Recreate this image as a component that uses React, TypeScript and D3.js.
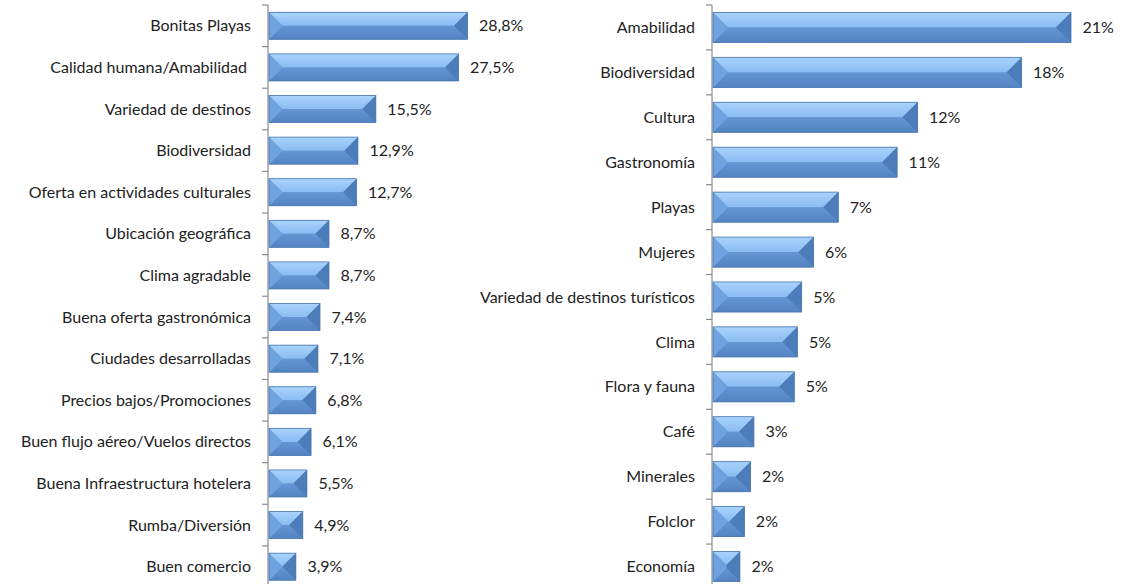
import * as d3 from "d3";

// left panel: reasons / attributes
const leftCategories = [
  "Bonitas Playas",
  "Calidad humana/Amabilidad ",
  "Variedad de destinos",
  "Biodiversidad",
  "Oferta en actividades culturales",
  "Ubicación geográfica",
  "Clima agradable",
  "Buena oferta gastronómica",
  "Ciudades desarrolladas",
  "Precios bajos/Promociones",
  "Buen flujo aéreo/Vuelos directos",
  "Buena Infraestructura hotelera",
  "Rumba/Diversión",
  "Buen comercio",
];
const leftValues = [28.8, 27.5, 15.5, 12.9, 12.7, 8.7, 8.7, 7.4, 7.1, 6.8, 6.1, 5.5, 4.9, 3.9];
const leftLabels = ["28,8%", "27,5%", "15,5%", "12,9%", "12,7%", "8,7%", "8,7%", "7,4%", "7,1%", "6,8%", "6,1%", "5,5%", "4,9%", "3,9%"];

// right panel
const rightCategories = [
  "Amabilidad",
  "Biodiversidad",
  "Cultura",
  "Gastronomía",
  "Playas",
  "Mujeres",
  "Variedad de destinos turísticos",
  "Clima",
  "Flora y fauna",
  "Café",
  "Minerales",
  "Folclor",
  "Economía",
];
const rightValues = [21, 18.1, 12.0, 10.8, 7.35, 5.9, 5.2, 4.95, 4.77, 2.4, 2.2, 1.84, 1.58];
const rightLabels = ["21%", "18%", "12%", "11%", "7%", "6%", "5%", "5%", "5%", "3%", "2%", "2%", "2%"];

const FONT = "Lato, 'Open Sans', sans-serif";
const TEXT = "#222";

type PanelProps = {
  id: string;
  cats: string[];
  values: number[];
  labels: string[];
  axisX: number;
  maxPx: number;
  yRange: [number, number];
  padding: number;
};

function Bar({ x0, x1, y0, y1, id }: { x0: number; x1: number; y0: number; y1: number; id: string }) {
  const h = y1 - y0;
  const w = x1 - x0;
  const d = Math.min(h / 2, w / 2);
  const top = `M${x0},${y0}L${x1},${y0}L${x1 - d},${y0 + d}L${x0 + d},${y0 + d}Z`;
  const bottom = `M${x0},${y1}L${x1},${y1}L${x1 - d},${y1 - d}L${x0 + d},${y1 - d}Z`;
  const left = `M${x0},${y0}L${x0 + d},${y0 + d}L${x0 + d},${y1 - d}L${x0},${y1}Z`;
  const right = `M${x1},${y0}L${x1 - d},${y0 + d}L${x1 - d},${y1 - d}L${x1},${y1}Z`;
  return (
    <g>
      <rect x={x0} y={y0} width={w} height={h} fill="#6a9bd8" />
      <path d={top} fill={`url(#${id}-top)`} />
      <path d={bottom} fill={`url(#${id}-bot)`} />
      <path d={left} fill="#6fa3e0" />
      <path d={right} fill="#4c7cba" />
      <rect x={x0} y={y0} width={w} height={h} fill="none" stroke="#4a77b0" strokeWidth={0.8} />
    </g>
  );
}

function Panel({ id, cats, values, labels, axisX, maxPx, yRange, padding }: PanelProps) {
  const y = d3.scaleBand<string>().domain(cats).range(yRange).paddingInner(padding).paddingOuter(padding / 2);
  const x = d3
    .scaleLinear()
    .domain([0, d3.max(values) as number])
    .range([axisX + 1, axisX + 1 + maxPx]);
  const step = y.step();
  const bounds = d3.range(cats.length + 1).map((i) => yRange[0] + i * step);
  return (
    <g fontFamily={FONT} fontSize={16} fill={TEXT}>
      <line x1={axisX} x2={axisX} y1={yRange[0]} y2={584} stroke="#8c8c8c" strokeWidth={1.2} />
      {bounds.map((b, i) => (
        <line key={i} x1={axisX - 6} x2={axisX} y1={b} y2={b} stroke="#8c8c8c" strokeWidth={1.2} />
      ))}
      {cats.map((c, i) => {
        const y0 = y(c) as number;
        const bw = y.bandwidth();
        const cy = y0 + bw / 2;
        return (
          <g key={c}>
            <text x={axisX - 17} y={cy} dy="0.35em" textAnchor="end" style={{ whiteSpace: "pre" }}>
              {c}
            </text>
            <Bar id={id} x0={x(0)} x1={x(values[i])} y0={y0} y1={y0 + bw} />
            <text x={x(values[i]) + 11.5} y={cy} dy="0.35em">
              {labels[i]}
            </text>
          </g>
        );
      })}
    </g>
  );
}

export default function App() {
  return (
    <svg
      width={1121}
      height={584}
      style={{ position: "absolute", left: 0, top: 0, background: "#fff", display: "block" }}
    >
      <defs>
        {["L", "R"].map((k) => (
          <g key={k}>
            <linearGradient id={`${k}-top`} x1="0" y1="0" x2="0" y2="1">
              <stop offset="0" stopColor="#a9d3fc" />
              <stop offset="1" stopColor="#8abcf2" />
            </linearGradient>
            <linearGradient id={`${k}-bot`} x1="0" y1="0" x2="0" y2="1">
              <stop offset="0" stopColor="#6596d4" />
              <stop offset="1" stopColor="#5383c2" />
            </linearGradient>
          </g>
        ))}
      </defs>
      <Panel
        id="L"
        cats={leftCategories}
        values={leftValues}
        labels={leftLabels}
        axisX={268}
        maxPx={198.5}
        yRange={[5, 587.5]}
        padding={0.35}
      />
      <Panel
        id="R"
        cats={rightCategories}
        values={rightValues}
        labels={rightLabels}
        axisX={712}
        maxPx={358}
        yRange={[5, 589]}
        padding={0.33}
      />
    </svg>
  );
}
